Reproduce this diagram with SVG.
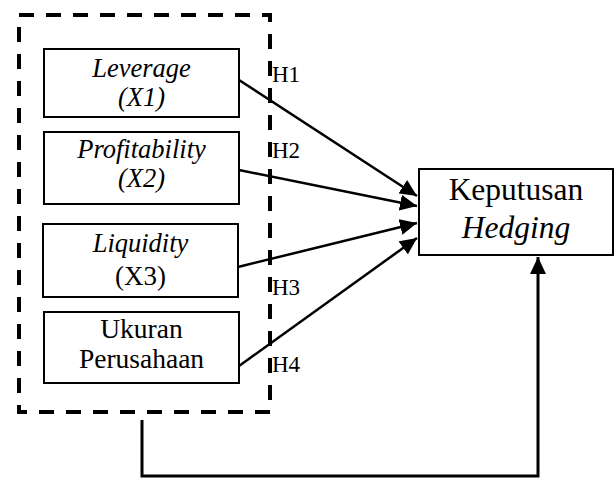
<svg xmlns="http://www.w3.org/2000/svg" width="616" height="479" viewBox="0 0 616 479">
<style>
.box{fill:#fff;stroke:#000;stroke-width:2}
.con{fill:none;stroke:#000;stroke-width:2.5}
</style>
<defs>
<marker id="arr" markerUnits="userSpaceOnUse" markerWidth="18" markerHeight="16" refX="17" refY="8" orient="auto">
<path d="M0,0 L17,8 L0,16 Z" fill="#000"/>
</marker>
</defs>
<rect id="group" x="19" y="15" width="251" height="397" fill="none" stroke="#000" stroke-width="4" stroke-dasharray="15 12"/>
<g id="leverage">
<rect class="box" x="44" y="49" width="195" height="68"/>
<text x="141.5" y="77" font-family="Liberation Serif" font-style="italic" font-size="26.5" text-anchor="middle">Leverage</text>
<text x="141.5" y="106" font-family="Liberation Serif" font-style="italic" font-size="26.5" text-anchor="middle">(X1)</text>
</g>
<g id="profitability">
<rect class="box" x="44" y="132" width="195" height="72"/>
<text x="141.5" y="158" font-family="Liberation Serif" font-style="italic" font-size="26.5" text-anchor="middle">Profitability</text>
<text x="141.5" y="187" font-family="Liberation Serif" font-style="italic" font-size="26.5" text-anchor="middle">(X2)</text>
</g>
<g id="liquidity">
<rect class="box" x="43" y="224" width="195" height="73"/>
<text x="140.5" y="252" font-family="Liberation Serif" font-style="italic" font-size="26.5" text-anchor="middle">Liquidity</text>
<text x="140.5" y="285" font-family="Liberation Serif" font-size="27" text-anchor="middle">(X3)</text>
</g>
<g id="ukuran">
<rect class="box" x="44" y="312" width="195" height="71"/>
<text x="141.5" y="338" font-family="Liberation Serif" font-size="27.5" text-anchor="middle">Ukuran</text>
<text x="141.5" y="368" font-family="Liberation Serif" font-size="27.5" text-anchor="middle">Perusahaan</text>
</g>
<g id="keputusan">
<rect class="box" x="419" y="169" width="194" height="86"/>
<text x="516" y="200" font-family="Liberation Serif" font-size="31.5" text-anchor="middle">Keputusan</text>
<text x="516" y="238" font-family="Liberation Serif" font-style="italic" font-size="31.5" text-anchor="middle">Hedging</text>
</g>
<g id="connectors">
<line class="con" x1="239" y1="80" x2="417" y2="196" marker-end="url(#arr)"/>
<line class="con" x1="239" y1="170" x2="417" y2="206" marker-end="url(#arr)"/>
<line class="con" x1="238" y1="267" x2="417" y2="223" marker-end="url(#arr)"/>
<line class="con" x1="239" y1="366" x2="417" y2="238" marker-end="url(#arr)"/>
<polyline fill="none" stroke="#000" stroke-width="3" points="142,420 142,476 538,476 538,257" marker-end="url(#arr)"/>
</g>
<g id="labels">
<text x="272" y="82" font-family="Liberation Serif" font-size="23">H1</text>
<text x="272" y="158" font-family="Liberation Serif" font-size="23">H2</text>
<text x="272" y="295" font-family="Liberation Serif" font-size="23">H3</text>
<text x="272" y="372" font-family="Liberation Serif" font-size="23">H4</text>
</g>
</svg>
